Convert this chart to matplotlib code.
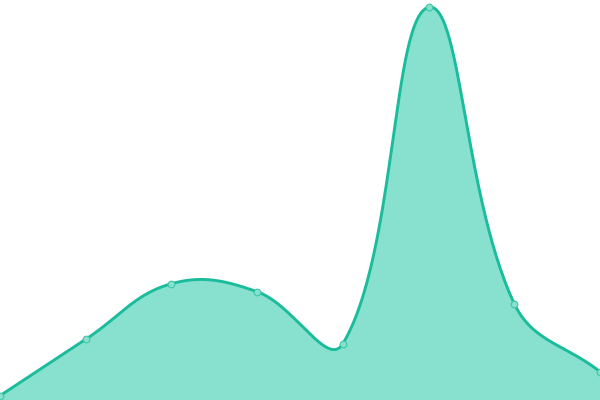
import numpy as np
import matplotlib.pyplot as plt

# point index and values (bottom of chart = 0, top = 400)
x_idx = [0, 1, 2, 3, 4, 5, 6, 7]
values = [4.3, 60.7, 116.3, 108.3, 56.3, 392.7, 96.3, 28.3]

LINE = '#1abc9c'
FILL = '#88e0cf'
TENSION = 0.4


def spline_controls(pts, t, w, h):
    """Bezier control points in the same way chart.js builds them."""
    n = len(pts)
    ctrl = []
    for i in range(n):
        prev = pts[max(i - 1, 0)]
        cur = pts[i]
        nxt = pts[min(i + 1, n - 1)]
        d01 = np.hypot(*(cur - prev))
        d12 = np.hypot(*(nxt - cur))
        tot = d01 + d12
        s01 = d01 / tot if tot else 0
        s12 = d12 / tot if tot else 0
        fa = t * s01
        fb = t * s12
        cp_prev = cur - fa * (nxt - prev)
        cp_next = cur + fb * (nxt - prev)
        cp_prev = np.clip(cp_prev, [0, 0], [w, h])
        cp_next = np.clip(cp_next, [0, 0], [w, h])
        ctrl.append((cp_prev, cp_next))
    return ctrl


fig = plt.figure(figsize=(6, 4), dpi=100)
ax = fig.add_axes([0, 0, 1, 1])
ax.set_xlim(0, 7)
ax.set_ylim(0, 400)
ax.axis('off')

pix = ax.transData.transform(np.column_stack([x_idx, values]))
W, H = fig.bbox.width, fig.bbox.height
ctrl = spline_controls(pix, TENSION, W, H)

tt = np.linspace(0, 1, 60)[:, None]
curve = []
for i in range(len(pix) - 1):
    p0 = pix[i]
    p1 = ctrl[i][1]
    p2 = ctrl[i + 1][0]
    p3 = pix[i + 1]
    seg = ((1 - tt) ** 3 * p0 + 3 * (1 - tt) ** 2 * tt * p1
           + 3 * (1 - tt) * tt ** 2 * p2 + tt ** 3 * p3)
    curve.append(seg if i == 0 else seg[1:])
curve = ax.transData.inverted().transform(np.vstack(curve))

ax.fill_between(curve[:, 0], curve[:, 1], 0, color=FILL, lw=0)
ax.plot(curve[:, 0], curve[:, 1], color=LINE, lw=2.1,
        solid_capstyle='round')
ax.plot(x_idx, values, 'o', ms=4.8, mfc=FILL, mec='#3cc8a8', mew=0.8,
        clip_on=False)

fig.savefig('out.png', dpi=100)
